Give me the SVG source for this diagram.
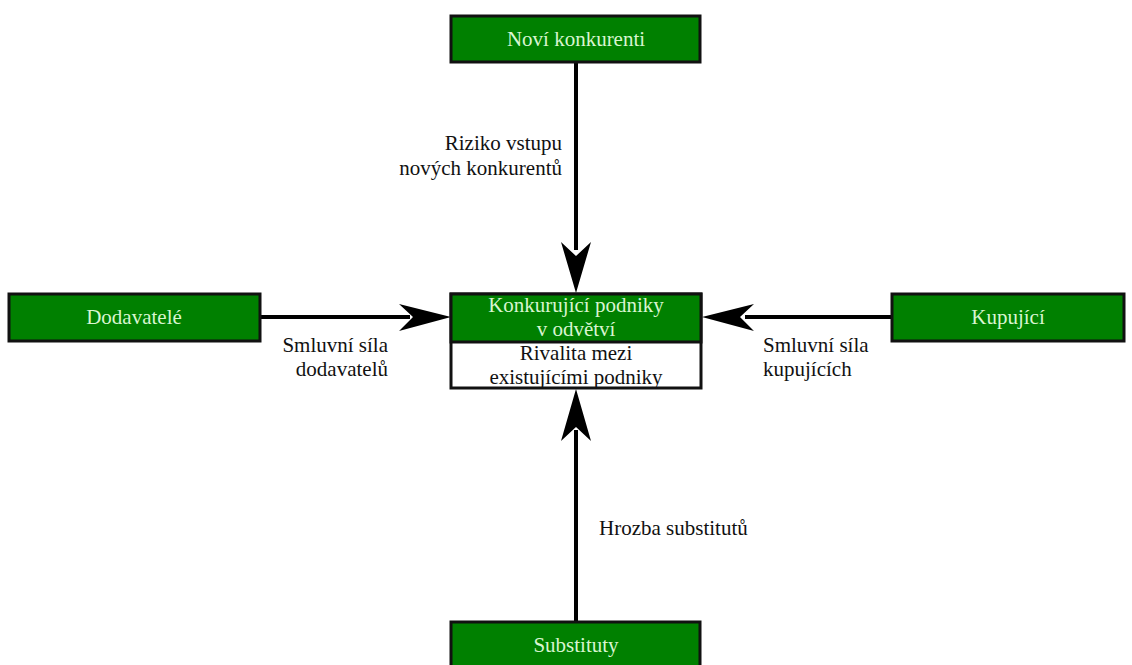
<svg xmlns="http://www.w3.org/2000/svg" width="1132" height="665" viewBox="0 0 1132 665">
<style>
.box{fill:#008000;stroke:#111;stroke-width:3}
.wbox{fill:#fff;stroke:#111;stroke-width:3}
.nt{font-family:"Liberation Serif","DejaVu Serif",serif;font-size:21px;fill:#d8f5d0;text-anchor:middle}
.bt{font-family:"Liberation Serif","DejaVu Serif",serif;font-size:21px;fill:#111;text-anchor:middle}
.lbl{font-family:"Liberation Serif","DejaVu Serif",serif;font-size:21px;fill:#111}
.ln{stroke:#000;stroke-width:4;fill:none}
.hd{fill:#000}
</style>
<rect width="1132" height="665" fill="#fff"/>
<g id="connectors">
<line class="ln" x1="576" y1="62" x2="576" y2="250"/>
<path class="hd" d="M576,293 L561,242 L576,256 L591,242 Z"/>
<line class="ln" x1="576" y1="622" x2="576" y2="430"/>
<path class="hd" d="M576,389 L561,441 L576,427 L591,441 Z"/>
<line class="ln" x1="260" y1="317" x2="410" y2="317"/>
<path class="hd" d="M451,317 L399,304 L413,317 L399,331 Z"/>
<line class="ln" x1="892" y1="317" x2="745" y2="317"/>
<path class="hd" d="M702,317 L754,304 L740,317 L754,331 Z"/>
</g>
<g id="labels">
<text class="lbl" x="562" y="150" text-anchor="end">Riziko vstupu</text>
<text class="lbl" x="562" y="175" text-anchor="end">nových konkurentů</text>
<text class="lbl" x="388" y="352" text-anchor="end">Smluvní síla</text>
<text class="lbl" x="388" y="376" text-anchor="end">dodavatelů</text>
<text class="lbl" x="763" y="352">Smluvní síla</text>
<text class="lbl" x="763" y="376">kupujících</text>
<text class="lbl" x="599" y="535">Hrozba substitutů</text>
</g>
<g id="node-novi">
<rect class="box" x="451" y="16" width="249" height="46"/>
<text class="nt" x="576" y="46">Noví konkurenti</text>
</g>
<g id="node-center">
<rect class="wbox" x="451" y="294" width="250" height="94"/>
<rect class="box" x="451" y="294" width="250" height="48"/>
<text class="nt" x="576" y="312">Konkurující podniky</text>
<text class="nt" x="576" y="336">v odvětví</text>
<text class="bt" x="576" y="360">Rivalita mezi</text>
<text class="bt" x="576" y="384">existujícími podniky</text>
</g>
<g id="node-dodavatele">
<rect class="box" x="9" y="294" width="251" height="47"/>
<text class="nt" x="134" y="324">Dodavatelé</text>
</g>
<g id="node-kupujici">
<rect class="box" x="892" y="294" width="232" height="47"/>
<text class="nt" x="1008" y="324">Kupující</text>
</g>
<g id="node-substituty">
<rect class="box" x="451" y="622" width="249" height="50"/>
<text class="nt" x="576" y="652">Substituty</text>
</g>
</svg>
